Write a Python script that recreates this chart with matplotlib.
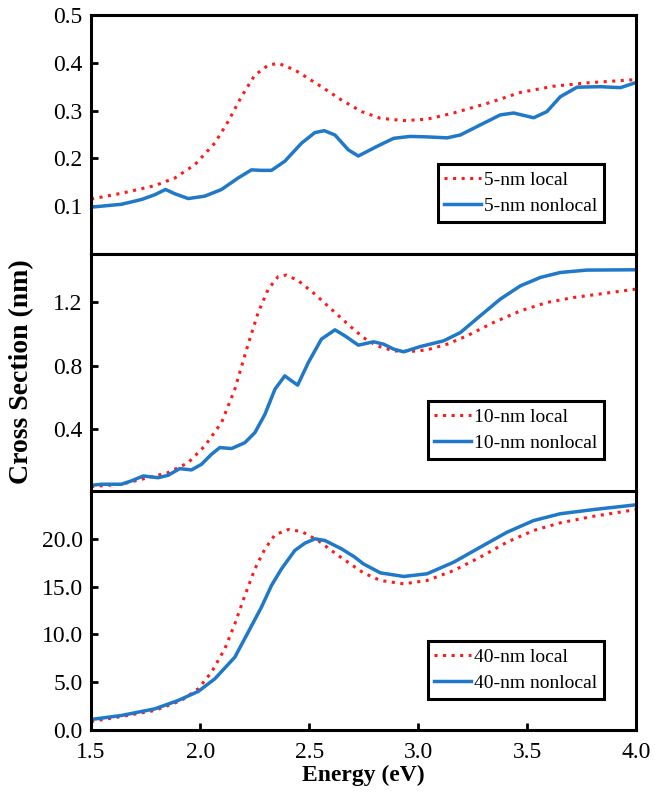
import matplotlib
matplotlib.use("Agg")
import matplotlib.pyplot as plt

plt.rcParams['font.family'] = ['Liberation Serif', 'DejaVu Serif']

# panel 1 : 5-nm particle
e5_loc = [1.5, 1.639, 1.792, 1.884, 1.976, 2.067, 2.128, 2.189, 2.25, 2.312, 2.358, 2.434, 2.556, 2.648,
          2.74, 2.826, 2.933, 3.04, 3.162, 3.315, 3.468, 3.62, 3.773, 4.0]
s5_loc = [0.115, 0.127, 0.143, 0.159, 0.187, 0.232, 0.277, 0.329, 0.374, 0.395, 0.399, 0.385, 0.35, 0.322,
          0.298, 0.284, 0.279, 0.282, 0.295, 0.315, 0.338, 0.351, 0.358, 0.365]
e5_non = [1.5, 1.639, 1.731, 1.792, 1.841, 1.884, 1.945, 2.021, 2.098, 2.174, 2.235, 2.28, 2.327, 2.388,
          2.465, 2.526, 2.569, 2.618, 2.679, 2.725, 2.81, 2.887, 2.963, 3.04, 3.132, 3.193, 3.284, 3.376,
          3.437, 3.529, 3.59, 3.651, 3.728, 3.835, 3.927, 4.0]
s5_non = [0.098, 0.104, 0.114, 0.124, 0.135, 0.126, 0.116, 0.121, 0.135, 0.159, 0.176, 0.175, 0.175, 0.194,
          0.232, 0.254, 0.258, 0.249, 0.218, 0.205, 0.225, 0.242, 0.246, 0.245, 0.243, 0.249, 0.27, 0.291,
          0.295, 0.285, 0.298, 0.329, 0.349, 0.35, 0.348, 0.359]

# panel 2 : 10-nm particle
e10_loc = [1.5, 1.639, 1.761, 1.853, 1.945, 2.021, 2.098, 2.159, 2.22, 2.266, 2.312, 2.358, 2.396, 2.45,
           2.526, 2.618, 2.694, 2.748, 2.81, 2.887, 2.963, 3.04, 3.132, 3.223, 3.345, 3.468, 3.59, 3.712,
           3.865, 4.0]
s10_loc = [0.04, 0.055, 0.096, 0.128, 0.19, 0.295, 0.442, 0.652, 0.934, 1.133, 1.28, 1.359, 1.368, 1.332,
           1.248, 1.133, 1.039, 0.976, 0.924, 0.892, 0.888, 0.898, 0.934, 0.986, 1.07, 1.143, 1.196, 1.227,
           1.255, 1.28]
e10_non = [1.5, 1.547, 1.639, 1.685, 1.739, 1.807, 1.853, 1.906, 1.96, 2.006, 2.052, 2.09, 2.144, 2.205,
           2.251, 2.297, 2.343, 2.388, 2.419, 2.447, 2.496, 2.556, 2.618, 2.664, 2.725, 2.795, 2.841, 2.887,
           2.933, 3.009, 3.116, 3.193, 3.284, 3.376, 3.468, 3.56, 3.651, 3.773, 4.0]
s10_non = [0.048, 0.055, 0.055, 0.076, 0.107, 0.096, 0.111, 0.153, 0.145, 0.18, 0.243, 0.285, 0.279, 0.316,
           0.379, 0.494, 0.652, 0.735, 0.704, 0.677, 0.819, 0.966, 1.024, 0.986, 0.928, 0.949, 0.934, 0.903,
           0.886, 0.919, 0.955, 1.007, 1.112, 1.217, 1.30, 1.353, 1.384, 1.399, 1.401]

# panel 3 : 40-nm particle
e40_loc = [1.5, 1.639, 1.792, 1.914, 1.991, 2.052, 2.113, 2.159, 2.205, 2.251, 2.297, 2.343, 2.404, 2.465,
           2.541, 2.633, 2.748, 2.826, 2.933, 3.04, 3.162, 3.284, 3.407, 3.529, 3.651, 3.804, 4.0]
s40_loc = [0.89, 1.41, 2.04, 3.09, 4.31, 6.05, 8.49, 11.11, 14.07, 16.86, 18.95, 20.42, 20.97, 20.76,
           19.82, 18.25, 16.44, 15.64, 15.29, 15.64, 16.68, 18.08, 19.65, 20.87, 21.67, 22.36, 23.06]
e40_non = [1.5, 1.639, 1.792, 1.899, 1.991, 2.067, 2.159, 2.22, 2.281, 2.327, 2.373, 2.434, 2.48, 2.526,
           2.572, 2.648, 2.709, 2.748, 2.826, 2.933, 3.04, 3.162, 3.284, 3.407, 3.529, 3.651, 3.804, 4.0]
s40_non = [1.1, 1.52, 2.21, 3.09, 4.03, 5.35, 7.62, 10.23, 12.85, 15.12, 16.86, 18.78, 19.54, 20.0,
           19.82, 18.95, 18.08, 17.38, 16.44, 16.06, 16.34, 17.55, 19.12, 20.69, 21.91, 22.62, 23.06, 23.56]

panels = [
    (e5_loc, s5_loc, e5_non, s5_non, "5-nm", (0, 0.5), [0.1, 0.2, 0.3, 0.4, 0.5]),
    (e10_loc, s10_loc, e10_non, s10_non, "10-nm", (0, 1.5), [0.4, 0.8, 1.2]),
    (e40_loc, s40_loc, e40_non, s40_non, "40-nm", (0, 25), [0, 5, 10, 15, 20]),
]
xticks = [1.5, 2.0, 2.5, 3.0, 3.5, 4.0]

red = "#ff1a1a"
blue = "#1f78c8"

fig = plt.figure(figsize=(6.65, 8), dpi=100)
bottoms = [0.6825, 0.38375, 0.0875]
height = 0.29875
left, width = 0.137, 0.82
leg_y = [0.134, 0.142, 0.13]

for i, (el, sl, en, sn, name, ylim, yt) in enumerate(panels):
    ax = fig.add_axes([left, bottoms[i], width, height])
    ax.plot(el, sl, color=red, linestyle=(0, (1, 1.8)), linewidth=2.2, label=name + " local")
    ax.plot(en, sn, color=blue, linestyle="-", linewidth=2.5, label=name + " nonlocal")
    ax.set_xlim(1.5, 4.0)
    ax.set_ylim(*ylim)
    ax.set_yticks(yt)
    ax.set_yticklabels(["%.1f" % v for v in yt])
    ax.set_xticks(xticks)
    ax.tick_params(direction="in", length=5, width=2, labelsize=17)
    ax.tick_params(axis="y", pad=6)
    if i < 2:
        ax.tick_params(axis="x", length=0, labelbottom=False)
    else:
        ax.tick_params(axis="x", pad=9)
        ax.set_xticklabels(["%.1f" % v for v in xticks])
    for sp in ax.spines.values():
        sp.set_linewidth(2.2)
    leg = ax.legend(loc="lower right", bbox_to_anchor=(0.941, leg_y[i]), fontsize=14,
                    fancybox=False, edgecolor="black", framealpha=1, borderaxespad=0,
                    handlelength=1.9, handletextpad=0.15, borderpad=0.35, labelspacing=0.45)
    leg.get_frame().set_linewidth(2.2)

fig.text(0.032, 0.535, "Cross Section (nm)", rotation=90, ha="center", va="center",
         fontsize=20, fontweight="bold")
fig.text(0.547, 0.031, "Energy (eV)", ha="center", va="center", fontsize=17, fontweight="bold")

fig.savefig("out.png", dpi=100)
